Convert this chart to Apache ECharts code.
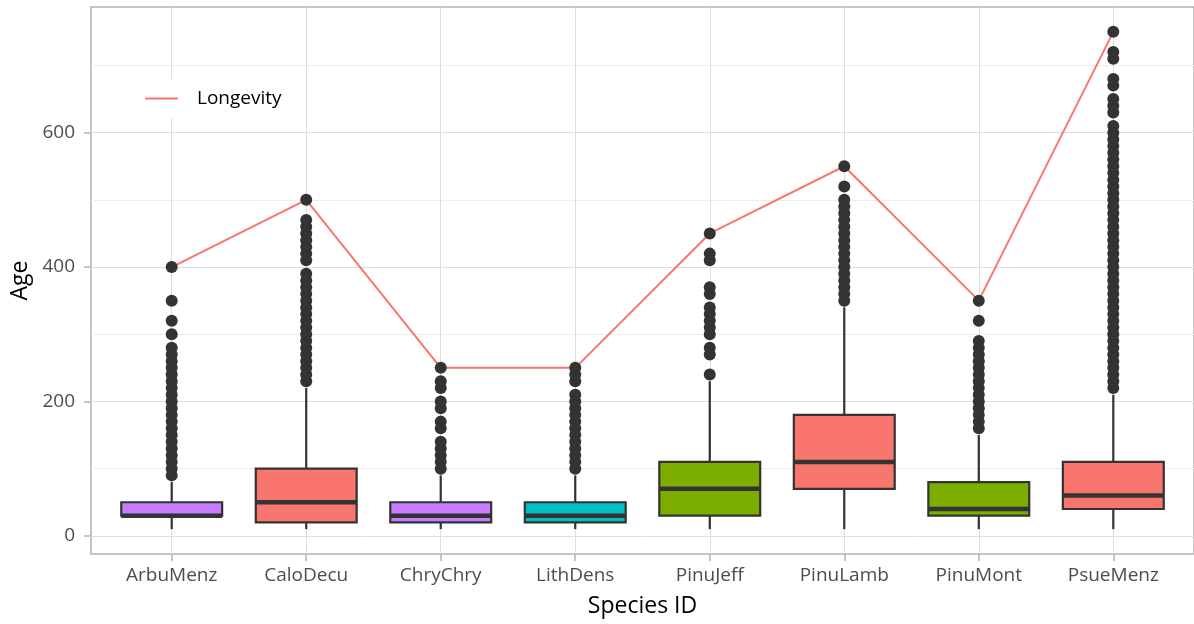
<!DOCTYPE html>
<html><head><meta charset="utf-8">
<script src="https://cdn.jsdelivr.net/npm/echarts@6/dist/echarts.min.js"></script>
<style>html,body{margin:0;padding:0;background:#fff}#c{width:1194px;height:624px}</style>
</head><body><div id="c"></div>
<script>
const categories = ['ArbuMenz','CaloDecu','ChryChry','LithDens','PinuJeff','PinuLamb','PinuMont','PsueMenz'];
const whiskerLow  = [10, 10, 10, 10, 10, 10, 10, 10];
const q1          = [30, 20, 20, 20, 30, 70, 30, 40];
const median      = [30, 50, 30, 30, 70, 110, 40, 60];
const q3          = [50, 100, 50, 50, 110, 180, 80, 110];
const whiskerHigh = [80, 220, 90, 90, 230, 340, 150, 210];
const longevity   = [400, 500, 250, 250, 450, 550, 350, 750];

const outArbuMenz = [90,100,110,120,130,140,150,160,170,180,190,200,210,220,230,240,250,260,270,280,300,320,350,400];
const outCaloDecu = [230,240,250,260,270,280,290,300,310,320,330,340,350,360,370,380,390,410,420,430,440,450,460,470,500];
const outChryChry = [100,110,120,130,140,160,170,190,200,220,230,250];
const outLithDens = [100,110,120,130,140,150,160,170,180,190,200,210,230,240,250];
const outPinuJeff = [240,270,280,300,310,320,330,340,360,370,410,420,450];
const outPinuLamb = [350,360,370,380,390,400,410,420,430,440,450,460,470,480,490,500,520,550];
const outPinuMont = [160,170,180,190,200,210,220,230,240,250,260,270,280,290,320,350];
const outPsueMenz = [220,230,240,250,260,270,280,290,300,310,320,330,340,350,360,370,380,390,400,410,420,430,440,450,460,470,480,490,500,510,520,530,540,550,560,570,580,590,600,610,630,640,650,670,680,710,720,750];
const outliers = [outArbuMenz,outCaloDecu,outChryChry,outLithDens,outPinuJeff,outPinuLamb,outPinuMont,outPsueMenz];

const yMajorTicks = [0, 200, 400, 600];
const yMinorTicks = [100, 300, 500, 700];

// styles
const fillColors = ['#C77CFF','#F8766D','#C77CFF','#00BFC4','#7CAE00','#F8766D','#7CAE00','#F8766D'];
const dark = '#333333';
const font = 'Open Sans';

const xTickValues = categories.map((c, i) => i);
const boxData = categories.map((c, i) => [i, whiskerLow[i], q1[i], median[i], q3[i], whiskerHigh[i]]);
const outlierData = [];
outliers.forEach((arr, i) => arr.forEach(v => outlierData.push([i, v])));
const lineData = longevity.map((v, i) => [i, v]);

function renderBox(params, api) {
  const x = api.value(0);
  const pLo = api.coord([x, api.value(1)]);
  const pA = api.coord([x, api.value(2)]);
  const pM = api.coord([x, api.value(3)]);
  const pB = api.coord([x, api.value(4)]);
  const pHi = api.coord([x, api.value(5)]);
  const left = api.coord([x - 0.375, 0])[0];
  const right = api.coord([x + 0.375, 0])[0];
  return {
    type: 'group',
    children: [
      {type: 'line', shape: {x1: pLo[0], y1: pLo[1], x2: pA[0], y2: pA[1]}, style: {stroke: dark, lineWidth: 2.2}},
      {type: 'line', shape: {x1: pB[0], y1: pB[1], x2: pHi[0], y2: pHi[1]}, style: {stroke: dark, lineWidth: 2.2}},
      {type: 'rect', shape: {x: left, y: pB[1], width: right - left, height: pA[1] - pB[1]},
       style: {fill: fillColors[params.dataIndex], stroke: dark, lineWidth: 2.2}},
      {type: 'line', shape: {x1: left, y1: pM[1], x2: right, y2: pM[1]}, style: {stroke: dark, lineWidth: 4.5}}
    ]
  };
}

const chart = echarts.init(document.getElementById('c'), null, {renderer: 'canvas'});
chart.setOption({
  animation: false,
  backgroundColor: '#fff',
  grid: {left: 91, top: 7, width: 1104, height: 547, show: true, borderColor: '#B3B3B3', borderWidth: 1.5, containLabel: false},
  legend: {
    data: [{name: 'Longevity', icon: 'rect'}],
    left: 128, top: 79,
    itemWidth: 33, itemHeight: 2,
    backgroundColor: '#fff',
    padding: [10, 23, 10, 17],
    textStyle: {fontSize: 19, color: '#000', fontFamily: font, padding: [0, 0, 0, 14]}
  },
  xAxis: {
    type: 'value', min: -0.6, max: 7.6,
    axisLine: {show: false, onZero: false},
    axisTick: {show: true, customValues: xTickValues, length: 7, lineStyle: {color: '#B3B3B3', width: 1.5}},
    axisLabel: {customValues: xTickValues, formatter: v => categories[Math.round(v)], color: '#4D4D4D', fontSize: 19, fontFamily: font, margin: 12},
    splitLine: {show: true, lineStyle: {color: '#DEDEDE', width: 1}},
    name: 'Species ID', nameLocation: 'middle', nameGap: 41,
    nameTextStyle: {fontSize: 23, color: '#000', fontFamily: font}
  },
  yAxis: [{
    type: 'value', min: -27, max: 787,
    axisLine: {show: false, onZero: false},
    axisTick: {show: true, customValues: yMajorTicks, length: 7, lineStyle: {color: '#B3B3B3', width: 1.5}},
    axisLabel: {customValues: yMajorTicks, color: '#4D4D4D', fontSize: 19, fontFamily: font, margin: 16},
    splitLine: {show: true, lineStyle: {color: '#DEDEDE', width: 1}},
    name: 'Age', nameLocation: 'middle', nameGap: 58,
    nameTextStyle: {fontSize: 23, color: '#000', fontFamily: font}
  }, {
    type: 'value', min: -27, max: 787, position: 'right',
    axisLine: {show: false, onZero: false},
    axisTick: {show: false, customValues: yMinorTicks},
    axisLabel: {show: false, customValues: yMinorTicks},
    splitLine: {show: true, lineStyle: {color: '#EDEDED', width: 1}}
  }],
  series: [
    {type: 'custom', name: 'box', renderItem: renderBox, data: boxData, encode: {x: 0, y: [1, 2, 3, 4, 5]}, z: 3, silent: true},
    {type: 'line', name: 'Longevity', data: lineData, symbol: 'none', showSymbol: false,
     lineStyle: {color: '#F8766D', width: 2}, itemStyle: {color: '#F8766D'}, z: 4, silent: true},
    {type: 'scatter', name: 'outliers', data: outlierData, symbolSize: 12,
     itemStyle: {color: dark, opacity: 1}, z: 5, silent: true}
  ]
});
</script>
</body></html>
